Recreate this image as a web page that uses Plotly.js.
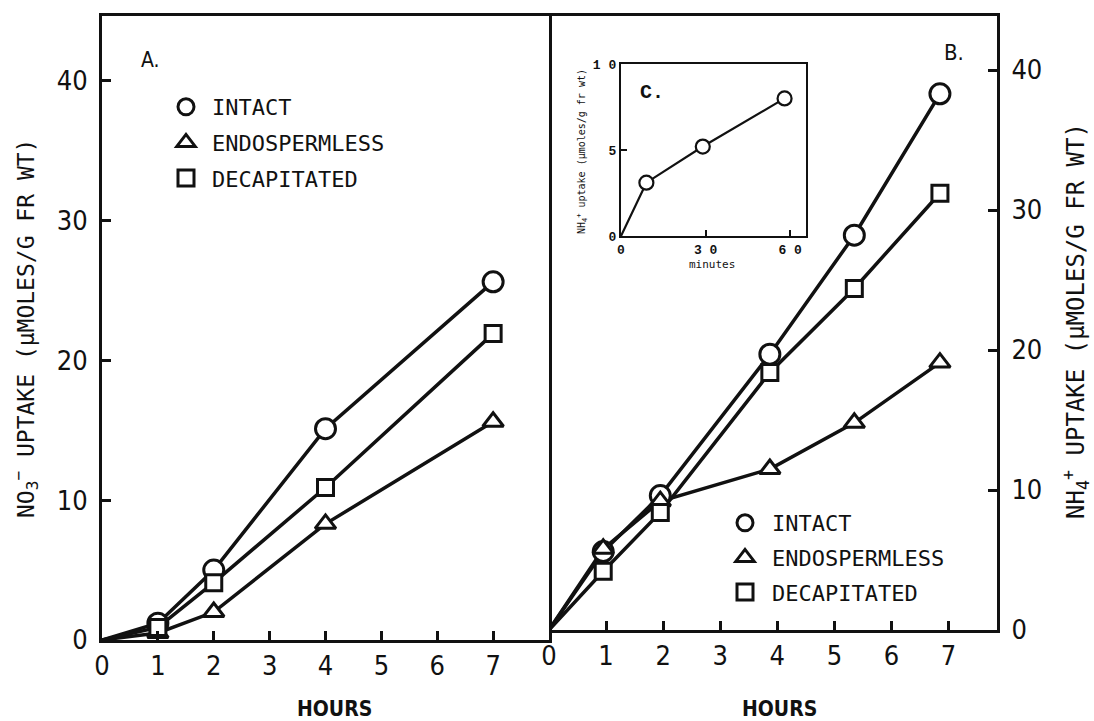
<!DOCTYPE html>
<html>
<head>
<meta charset="utf-8">
<script src="https://cdn.plot.ly/plotly-3.0.1.min.js"></script>
<style>html,body{margin:0;padding:0;background:#fff;}#chart{width:1094px;height:721px;}</style>
</head>
<body>
<div id="chart"></div>
<script>
// ---- data ----
const seriesNames = ['INTACT', 'ENDOSPERMLESS', 'DECAPITATED'];
// Panel A: NO3- uptake
const hoursA = [0, 1, 2, 4, 7];
const intactA = [0, 1.2, 5.0, 15.1, 25.6];
const endoA = [0, 0.5, 2.0, 8.3, 15.6];
const decapA = [0, 0.9, 4.1, 10.9, 21.9];
// Panel B: NH4+ uptake
const hoursB = [0, 0.95, 1.95, 3.87, 5.35, 6.85];
const intactB = [0, 5.6, 9.6, 19.7, 28.2, 38.3];
const endoB = [0, 5.8, 9.2, 11.5, 14.8, 19.1];
const decapB = [0, 4.2, 8.4, 18.4, 24.4, 31.2];
// Inset C: NH4+ uptake over minutes
const minutesC = [0, 9, 29, 58];
const uptakeC = [0, 3.1, 5.2, 8.0];
// tick labels
const hourTicks = [0, 1, 2, 3, 4, 5, 6, 7];
const uptakeTicks = [0, 10, 20, 30, 40];
const insetXTicks = [0, 30, 60];
const insetXText = ['0', '3 0', '6 0'];
const insetYTicks = [0, 5, 10];
const insetYText = ['0', '5', '1 0'];

// ---- geometry helpers ----
const W = 1094, H = 721, ML = 102, MR = 97, MT = 16, MB = 81;
const PW = W - ML - MR, PH = H - MT - MB;
const px = x => (x - ML) / PW;
const py = y => (H - MB - y) / PH;

const NARROW = '"Liberation Sans Narrow", "DejaVu Sans Condensed", "Roboto Condensed", sans-serif';
const MONO = '"DejaVu Sans Mono", "Liberation Mono", monospace';
const TYPE = '"Liberation Mono", "DejaVu Sans Mono", monospace';
const INK = '#111';

const symbols = ['circle', 'triangle-up', 'square'];
const sizes = [20, 18, 16];

const traces = [];
// lines start at the origin (no marker there), markers on the measured points
function addSeries(x, y, i, xa, ya) {
  traces.push({x: x, y: y, xaxis: xa, yaxis: ya, mode: 'lines', showlegend: false,
    line: {color: INK, width: 3.5}, cliponaxis: false, hoverinfo: 'skip'});
}
function addMarkers(x, y, i, xa, ya) {
  traces.push({x: x.slice(1), y: y.slice(1), xaxis: xa, yaxis: ya, mode: 'markers', showlegend: false,
    marker: {symbol: symbols[i], size: sizes[i], color: '#fff', line: {color: INK, width: 3}},
    cliponaxis: false, hoverinfo: 'skip'});
}
const seriesA = [intactA, endoA, decapA];
const seriesB = [intactB, endoB, decapB];
seriesA.forEach((s, i) => addSeries(hoursA, s, i, 'x', 'y'));
seriesB.forEach((s, i) => addSeries(hoursB, s, i, 'x2', 'y2'));
seriesA.forEach((s, i) => addMarkers(hoursA, s, i, 'x', 'y'));
seriesB.forEach((s, i) => addMarkers(hoursB, s, i, 'x2', 'y2'));
traces.push({x: minutesC, y: uptakeC, xaxis: 'x3', yaxis: 'y3', mode: 'lines', showlegend: false,
  line: {color: INK, width: 2.2}, cliponaxis: false, hoverinfo: 'skip'});
traces.push({x: minutesC.slice(1), y: uptakeC.slice(1), xaxis: 'x3', yaxis: 'y3', mode: 'markers', showlegend: false,
  marker: {symbol: 'circle', size: 14, color: '#fff', line: {color: INK, width: 2.2}}, cliponaxis: false, hoverinfo: 'skip'});

function legendTrace(i, leg) {
  return {
    x: [null], y: [null], xaxis: leg === 'legend' ? 'x' : 'x2', yaxis: leg === 'legend' ? 'y' : 'y2',
    mode: 'markers', name: seriesNames[i], legend: leg, legendgroup: leg + i,
    marker: {symbol: symbols[i], size: 18, color: '#fff', line: {color: INK, width: 3}}
  };
}
for (let i = 0; i < 3; i++) traces.push(legendTrace(i, 'legend'));
for (let i = 0; i < 3; i++) traces.push(legendTrace(i, 'legend2'));

const tickFont = {family: NARROW, size: 27, color: INK};
const axisCommon = {
  showline: true, linecolor: INK, linewidth: 3, mirror: true, showgrid: false, zeroline: false,
  ticks: 'inside', ticklen: 9, tickwidth: 3, tickcolor: INK, tickfont: tickFont, fixedrange: true
};
const div = px(549);
const insetTickFont = {family: TYPE, size: 13, color: INK, weight: 'bold'};

function note(text, x, y, font, extra) {
  return Object.assign({text: text, x: px(x), y: py(y), xref: 'paper', yref: 'paper', showarrow: false,
    xanchor: 'center', yanchor: 'middle', font: font}, extra || {});
}

const layout = {
  width: W, height: H, paper_bgcolor: '#fff', plot_bgcolor: 'rgba(0,0,0,0)',
  margin: {l: ML, r: MR, t: MT, b: MB, pad: 0},
  showlegend: true,
  xaxis: Object.assign({}, axisCommon, {domain: [0, div], range: [0, 8], tickvals: hourTicks, anchor: 'y'}),
  yaxis: Object.assign({}, axisCommon, {domain: [0, 1], range: [0, 44.6], tickvals: uptakeTicks, anchor: 'x', ticklabelstandoff: 6}),
  xaxis2: Object.assign({}, axisCommon, {domain: [div, 1], range: [0, 7.85], tickvals: hourTicks, anchor: 'y2'}),
  yaxis2: Object.assign({}, axisCommon, {domain: [py(630), 1], range: [0, 43.86], tickvals: uptakeTicks, anchor: 'x2',
    side: 'right', mirror: false, ticklabelstandoff: 6}),
  xaxis3: Object.assign({}, axisCommon, {domain: [px(621), px(806)], range: [0, 65.6], tickvals: insetXTicks, ticktext: insetXText,
    anchor: 'y3', linewidth: 2.2, tickwidth: 2, ticklen: 6, tickfont: insetTickFont}),
  yaxis3: Object.assign({}, axisCommon, {domain: [py(236), py(64)], range: [0, 10], tickvals: insetYTicks, ticktext: insetYText,
    anchor: 'x3', linewidth: 2.2, tickwidth: 2, ticklen: 6, tickfont: insetTickFont}),
  legend: {x: px(160), y: py(86), xanchor: 'left', yanchor: 'top', bgcolor: 'rgba(0,0,0,0)', borderwidth: 0,
    font: {family: MONO, size: 22, color: INK}, traceorder: 'grouped', tracegroupgap: 4, itemwidth: 42},
  legend2: {x: px(718), y: py(502), xanchor: 'left', yanchor: 'top', bgcolor: 'rgba(0,0,0,0)', borderwidth: 0,
    font: {family: MONO, size: 22, color: INK}, traceorder: 'grouped', tracegroupgap: 3, itemwidth: 44},
  annotations: [
    note('HOURS', 334, 709, {family: NARROW, size: 21, color: INK, weight: 'bold'}),
    note('HOURS', 779, 709, {family: NARROW, size: 21, color: INK, weight: 'bold'}),
    note('NO<sub>3</sub><sup>−</sup> UPTAKE (µMOLES/G FR WT)', 25, 329, {family: MONO, size: 23, color: INK}, {textangle: -90}),
    note('NH<sub>4</sub><sup>+</sup> UPTAKE (µMOLES/G FR WT)', 1075, 321, {family: MONO, size: 24, color: INK}, {textangle: -90}),
    note('A.', 150, 60, {family: NARROW, size: 21, color: INK}),
    note('B.', 954, 52, {family: NARROW, size: 22, color: INK}),
    note('C.', 652, 92, {family: TYPE, size: 20, color: INK, weight: 'bold'}),
    note('minutes', 712, 264, {family: MONO, size: 11, color: INK}),
    note('NH<sub>4</sub><sup>+</sup> uptake (µmoles/g fr wt)', 582, 152, {family: MONO, size: 10, color: INK}, {textangle: -90})
  ]
};

Plotly.newPlot('chart', traces, layout, {staticPlot: true, displayModeBar: false});
</script>
</body>
</html>
